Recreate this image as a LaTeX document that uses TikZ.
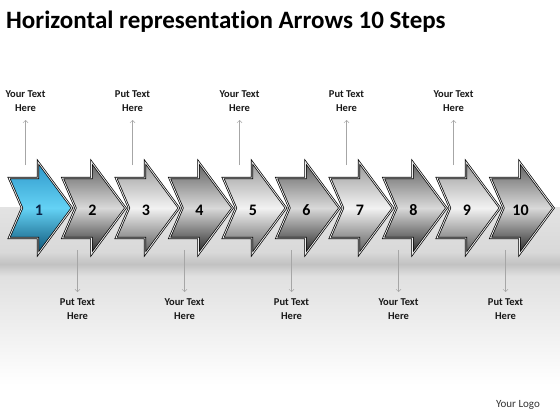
\documentclass[tikz,border=0pt]{standalone}
\usepackage{fontspec}
\setmainfont{Carlito}[Ligatures=NoCommon]
\usetikzlibrary{arrows.meta}
\tikzset{
  chevblue/.style={top color={rgb,255:red,45;green,150;blue,200}, bottom color={rgb,255:red,10;green,80;blue,115}, middle color={rgb,255:red,100;green,210;blue,245}},
  chevdark/.style={top color=gray!75!black, bottom color=gray!30!black, middle color=gray!30},
  chevlight/.style={top color=gray!80, bottom color=gray!70!black, middle color=gray!10},
  chevline/.style={draw=black, line width=0.7pt, double=gray!15, double distance=0.8pt, line join=miter},
  num/.style={font=\bfseries\fontsize{16}{16}\selectfont, text=black},
  lbl/.style={font=\bfseries\fontsize{10.5}{14}\selectfont, align=center, inner sep=0pt, text=black!90},
  conn/.style={draw=gray!70, line width=0.5pt, -{Straight Barb[length=2.5pt,width=5pt]}},
}
\definecolor{navynum}{RGB}{10,35,70}
\newcommand\chevpath[1]{(#1,178) -- (#1+29,178) -- (#1+29,162) -- (#1+63,208) -- (#1+29,254) -- (#1+29,238) -- (#1,238) -- (#1+13,208) -- cycle}
\begin{document}
\begin{tikzpicture}[x=1pt,y=-1pt]
\useasboundingbox (0,0) rectangle (560,420);
\fill[white] (0,0) rectangle (560,420);
% background bands
\shade[top color=gray!22, bottom color=gray!30] (0,207) rectangle (560,252);
\shade[top color=gray!30, bottom color=gray!24, middle color=gray!48] (0,252) rectangle (560,276);
\shade[top color=gray!24, bottom color=white] (0,276) rectangle (560,385);
% title
\node[anchor=base west, font=\bfseries\fontsize{25}{28}\selectfont, inner sep=0pt] (title) at (6,29) {Horizontal representation Arrows 10 Steps};
% chevrons
\foreach \i in {1,...,10}{
  \pgfmathsetmacro\xo{9+53.5*(\i-1)}
  \ifnum\i=1
    \shade[chevblue] \chevpath{\xo};
  \else\ifodd\i
    \shade[chevlight] \chevpath{\xo};
  \else
    \shade[chevdark] \chevpath{\xo};
  \fi\fi
  \draw[chevline] \chevpath{\xo};
  \ifnum\i=1
    \node[num, text=navynum] (n\i) at (\xo+30,210) {\i};
  \else
    \node[num] (n\i) at (\xo+30,210) {\i};
  \fi
}
% top labels
\foreach \k/\i/\t in {1/1/Your Text,2/3/Put Text,3/5/Your Text,4/7/Put Text,5/9/Your Text}{
  \pgfmathsetmacro\xo{9+53.5*(\i-1)+16.5}
  \node[lbl] (t\k) at (\xo,101) {\t\\Here};
  \coordinate (ts\k) at (\xo,165);
  \coordinate (te\k) at (\xo,120);
  \draw[conn] (ts\k) -- (te\k);
}
% bottom labels
\foreach \k/\i/\t in {1/2/Put Text,2/4/Your Text,3/6/Put Text,4/8/Your Text,5/10/Put Text}{
  \pgfmathsetmacro\xo{9+53.5*(\i-1)+15}
  \node[lbl] (b\k) at (\xo,309) {\t\\Here};
  \coordinate (bs\k) at (\xo,250);
  \coordinate (be\k) at (\xo,292);
  \draw[conn] (bs\k) -- (be\k);
}
\node[font=\fontsize{11}{12}\selectfont, text=black!80, inner sep=0pt] (logo) at (518,405) {Your Logo};
\end{tikzpicture}
\end{document}
